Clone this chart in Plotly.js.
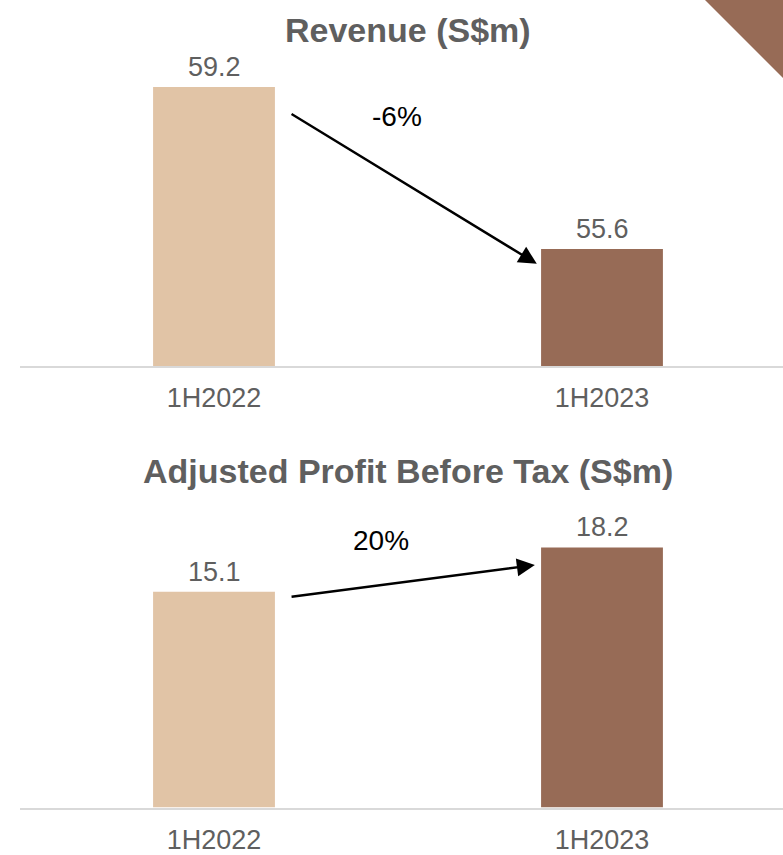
<!DOCTYPE html>
<html>
<head>
<meta charset="utf-8">
<script src="https://cdn.plot.ly/plotly-3.0.1.min.js"></script>
<style>html,body{margin:0;padding:0;background:#fff}#chart{width:783px;height:855px}</style>
</head>
<body>
<div id="chart"></div>
<script>
var categories = ["1H2022", "1H2023"];
var revenue = [59.2, 55.6];
var profit = [15.1, 18.2];
var revenueChange = "-6%";
var profitChange = "20%";
var titles = ["Revenue (S$m)", "Adjusted Profit Before Tax (S$m)"];

var colors = ["#E1C4A6", "#976B56"];
var FONT = "Liberation Sans, Arial, sans-serif";
var GREY = "#5F5F5F";

var W = 783, H = 855;
var xStart = 20 / W;

var traces = [
  {type: "bar", x: categories, y: revenue, marker: {color: colors}, width: 0.314,
   xaxis: "x", yaxis: "y", hoverinfo: "skip"},
  {type: "bar", x: categories, y: profit, marker: {color: colors}, width: 0.314,
   xaxis: "x2", yaxis: "y2", hoverinfo: "skip"}
];

function fy(px) { return 1 - px / H; }

var xr = [-0.5, 1.4665];
var axX = {domain: [xStart, 1], range: xr, showline: true, linecolor: "#D9D9D9", linewidth: 2,
  showgrid: false, zeroline: false, ticks: "", tickfont: {family: FONT, size: 27, color: GREY},
  ticklabelstandoff: 7, fixedrange: true};

var annotations = [];
categories.forEach(function (c, i) {
  annotations.push({x: c, y: revenue[i], xref: "x", yref: "y", text: revenue[i].toFixed(1),
    showarrow: false, yanchor: "bottom", yshift: 3, font: {family: FONT, size: 27, color: GREY}});
  annotations.push({x: c, y: profit[i], xref: "x2", yref: "y2", text: profit[i].toFixed(1),
    showarrow: false, yanchor: "bottom", yshift: 3, font: {family: FONT, size: 27, color: GREY}});
});
// titles
annotations.push({x: 0.5, y: fy(30), xref: "x", yref: "paper", text: "<b>" + titles[0] + "</b>",
  showarrow: false, yanchor: "middle", font: {family: FONT, size: 34, color: GREY}});
annotations.push({x: 0.5, y: fy(471), xref: "x2", yref: "paper", text: "<b>" + titles[1] + "</b>",
  showarrow: false, yanchor: "middle", font: {family: FONT, size: 34, color: GREY}});
// arrows
annotations.push({x: 0.832, y: 55.27, ax: 0.196, ay: 58.62, xref: "x", yref: "y", axref: "x", ayref: "y",
  text: "", showarrow: true, arrowhead: 2, arrowsize: 1.5, arrowwidth: 2.4, arrowcolor: "#000"});
annotations.push({x: 0.827, y: 16.97, ax: 0.196, ay: 14.73, xref: "x2", yref: "y2", axref: "x2", ayref: "y2",
  text: "", showarrow: true, arrowhead: 2, arrowsize: 1.5, arrowwidth: 2.4, arrowcolor: "#000"});
// change labels
annotations.push({x: 0.472, y: fy(117), xref: "x", yref: "paper", text: revenueChange, showarrow: false,
  yanchor: "middle", font: {family: FONT, size: 28, color: "#000"}});
annotations.push({x: 0.43, y: fy(540), xref: "x2", yref: "paper", text: profitChange, showarrow: false,
  yanchor: "middle", font: {family: FONT, size: 28, color: "#000"}});

var layout = {
  width: W, height: H,
  margin: {l: 0, r: 0, t: 0, b: 0},
  paper_bgcolor: "#fff", plot_bgcolor: "#fff",
  showlegend: false,
  font: {family: FONT, color: GREY},
  xaxis: Object.assign({}, axX, {anchor: "y"}),
  xaxis2: Object.assign({}, axX, {anchor: "y2"}),
  yaxis: {domain: [fy(366), 1], range: [53.0, 53.0 + 366 / 45], visible: false, fixedrange: true},
  yaxis2: {domain: [fy(807.5), fy(450)], range: [0, (807.5 - 450) / 14.29], visible: false, fixedrange: true},
  annotations: annotations,
  shapes: [{type: "path", xref: "paper", yref: "paper",
    path: "M " + (705 / W) + " 1 L 1 1 L 1 " + fy(78) + " Z",
    fillcolor: "#976B56", line: {width: 0}}]
};

Plotly.newPlot("chart", traces, layout, {staticPlot: true, displayModeBar: false});
</script>
</body>
</html>
